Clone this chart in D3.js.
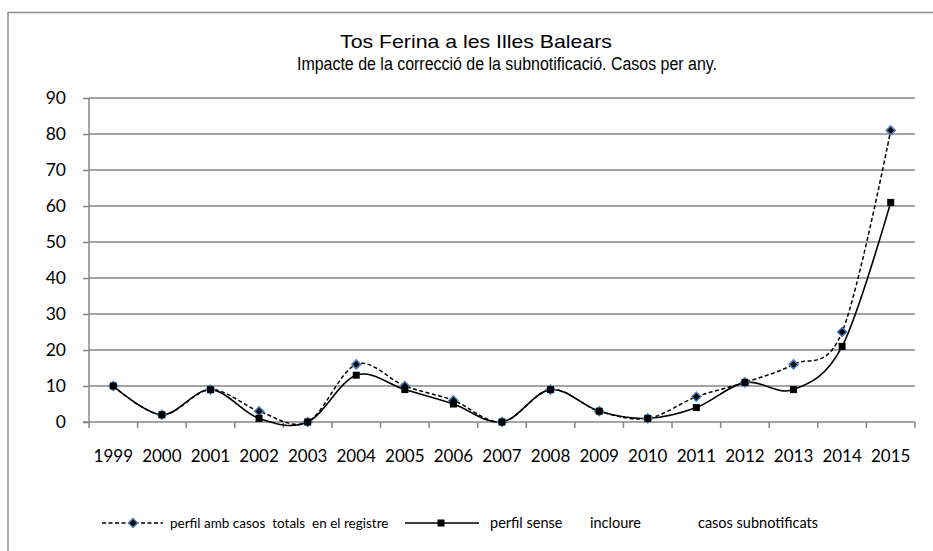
<!DOCTYPE html>
<html>
<head>
<meta charset="utf-8">
<script src="https://cdn.jsdelivr.net/npm/d3@7"></script>
<style>
  html, body { margin: 0; padding: 0; background: #fff; }
  svg { display: block; }
</style>
</head>
<body>
<svg id="chart" width="933" height="551"></svg>
<script>
const titleLines = ["Tos Ferina a les Illes Balears", "Impacte de la correcció de la subnotificació. Casos per any."];
const years = ["1999","2000","2001","2002","2003","2004","2005","2006","2007","2008","2009","2010","2011","2012","2013","2014","2015"];
const totalCases = [10, 2, 9, 3, 0, 16, 10, 6, 0, 9, 3, 1, 7, 11, 16, 25, 81];
const reportedCases = [10, 2, 9, 1, 0, 13, 9, 5, 0, 9, 3, 1, 4, 11, 9, 21, 61];
const yTicks = [0, 10, 20, 30, 40, 50, 60, 70, 80, 90];
const seriesNames = ["perfil amb casos  totals  en el registre", "perfil sense  incloure   casos subnotificats"];

(function () {
const svg = d3.select("#chart");
const pLeft = 89, pRight = 915, pTop = 98, pBottom = 422;

// outer frame
svg.append("rect").attr("x", 8).attr("y", 12.5).attr("width", 940).attr("height", 560)
  .attr("fill", "#fff").attr("stroke", "#8c8c8c").attr("stroke-width", 1.5);

const x = d3.scaleBand().domain(years).range([pLeft, pRight]);
const y = d3.scaleLinear().domain([0, 90]).range([pBottom, pTop]);

const gridColor = "#868686";

// gridlines
svg.append("g").selectAll("line").data(yTicks.filter(d => d > 0)).join("line")
  .attr("x1", pLeft).attr("x2", pRight)
  .attr("y1", d => y(d)).attr("y2", d => y(d))
  .attr("stroke", gridColor).attr("stroke-width", 1.5);

// y axis
const yAxis = d3.axisLeft(y).tickValues(yTicks).tickSize(6).tickPadding(17);
const gy = svg.append("g").attr("transform", `translate(${pLeft},0)`).call(yAxis);
gy.select(".domain").attr("stroke", gridColor).attr("stroke-width", 1.5).attr("d", `M0,${pTop}V${pBottom}`);
gy.selectAll(".tick line").attr("stroke", gridColor).attr("stroke-width", 1.5);
gy.selectAll(".tick text").attr("font-family", "Lato, 'Open Sans', sans-serif").attr("font-size", 17.5).attr("fill", "#000");

// x axis with ticks between categories
const xb = [pLeft, ...years.map(d => x(d) + x.bandwidth())];
const gx = svg.append("g");
gx.append("line").attr("x1", pLeft - 6).attr("x2", pRight).attr("y1", pBottom).attr("y2", pBottom)
  .attr("stroke", gridColor).attr("stroke-width", 1.5);
gx.selectAll("line.tk").data(xb).join("line").attr("class", "tk")
  .attr("x1", d => d).attr("x2", d => d).attr("y1", pBottom).attr("y2", pBottom + 6)
  .attr("stroke", gridColor).attr("stroke-width", 1.5);
gx.selectAll("text").data(years).join("text")
  .attr("x", d => x(d) + x.bandwidth() / 2).attr("y", 462)
  .attr("text-anchor", "middle")
  .attr("font-family", "Lato, 'Open Sans', sans-serif").attr("font-size", 17)
  .text(d => d);

// title
svg.append("text").attr("x", 340).attr("y", 48).attr("textLength", 272).attr("lengthAdjust", "spacingAndGlyphs")
  .attr("font-family", "'Liberation Sans', Arial, sans-serif").attr("font-size", 18.5).text(titleLines[0]);
svg.append("text").attr("x", 297).attr("y", 70).attr("textLength", 420).attr("lengthAdjust", "spacingAndGlyphs")
  .attr("font-family", "'Liberation Sans', Arial, sans-serif").attr("font-size", 18).text(titleLines[1]);

const cx = (d, i) => x(years[i]) + x.bandwidth() / 2;
const line = d3.line().x((d, i) => cx(d, i)).y(d => y(d)).curve(d3.curveCardinal.tension(0));

svg.append("path").datum(totalCases).attr("d", line).attr("fill", "none")
  .attr("stroke", "#000").attr("stroke-width", 1.5).attr("stroke-dasharray", "4,2.5");
svg.append("path").datum(reportedCases).attr("d", line).attr("fill", "none")
  .attr("stroke", "#000").attr("stroke-width", 1.6);

const diamond = s => `M0,${-s}L${s},0L0,${s}L${-s},0Z`;

svg.append("g").selectAll("path").data(totalCases).join("path")
  .attr("transform", (d, i) => `translate(${cx(d, i)},${y(d)})`)
  .attr("d", diamond(4.5)).attr("fill", "#000").attr("stroke", "#4a7ebb").attr("stroke-width", 1.5);
svg.append("g").selectAll("rect").data(reportedCases).join("rect")
  .attr("x", (d, i) => cx(d, i) - 3.5).attr("y", d => y(d) - 3.5)
  .attr("width", 7).attr("height", 7).attr("fill", "#000");

// legend
const ly = 523;
const lg = svg.append("g");
const lfont = "Lato, 'Open Sans', sans-serif";
lg.append("line").attr("x1", 102).attr("x2", 163).attr("y1", ly).attr("y2", ly)
  .attr("stroke", "#000").attr("stroke-width", 1.5).attr("stroke-dasharray", "4,2.5");
lg.append("path").attr("transform", `translate(133,${ly})`).attr("d", diamond(4.5))
  .attr("fill", "#000").attr("stroke", "#4a7ebb").attr("stroke-width", 1.5);
lg.append("text").attr("x", 170).attr("y", ly + 5)
  .attr("font-family", lfont).attr("font-size", 13.5)
  .style("white-space", "pre").text(seriesNames[0]);
lg.append("line").attr("x1", 405).attr("x2", 479).attr("y1", ly).attr("y2", ly)
  .attr("stroke", "#000").attr("stroke-width", 1.6);
lg.append("rect").attr("x", 441 - 3.5).attr("y", ly - 3.5).attr("width", 7).attr("height", 7).attr("fill", "#000");
// second legend label: word groups spread across the reference's width
const parts = seriesNames[1].split(/\s{2,}/);   // ["perfil sense", "incloure", "casos subnotificats"]
const t2 = lg.append("text").attr("y", ly + 5).attr("font-family", lfont).attr("font-size", 14.5);
t2.append("tspan").attr("x", 490).text(parts[0]);
t2.append("tspan").attr("x", 590).text(parts[1]);
lg.append("text").attr("x", 818).attr("y", ly + 5).attr("text-anchor", "end")
  .attr("font-family", lfont).attr("font-size", 14.5).text(parts[2]);
})();
</script>
</body>
</html>
